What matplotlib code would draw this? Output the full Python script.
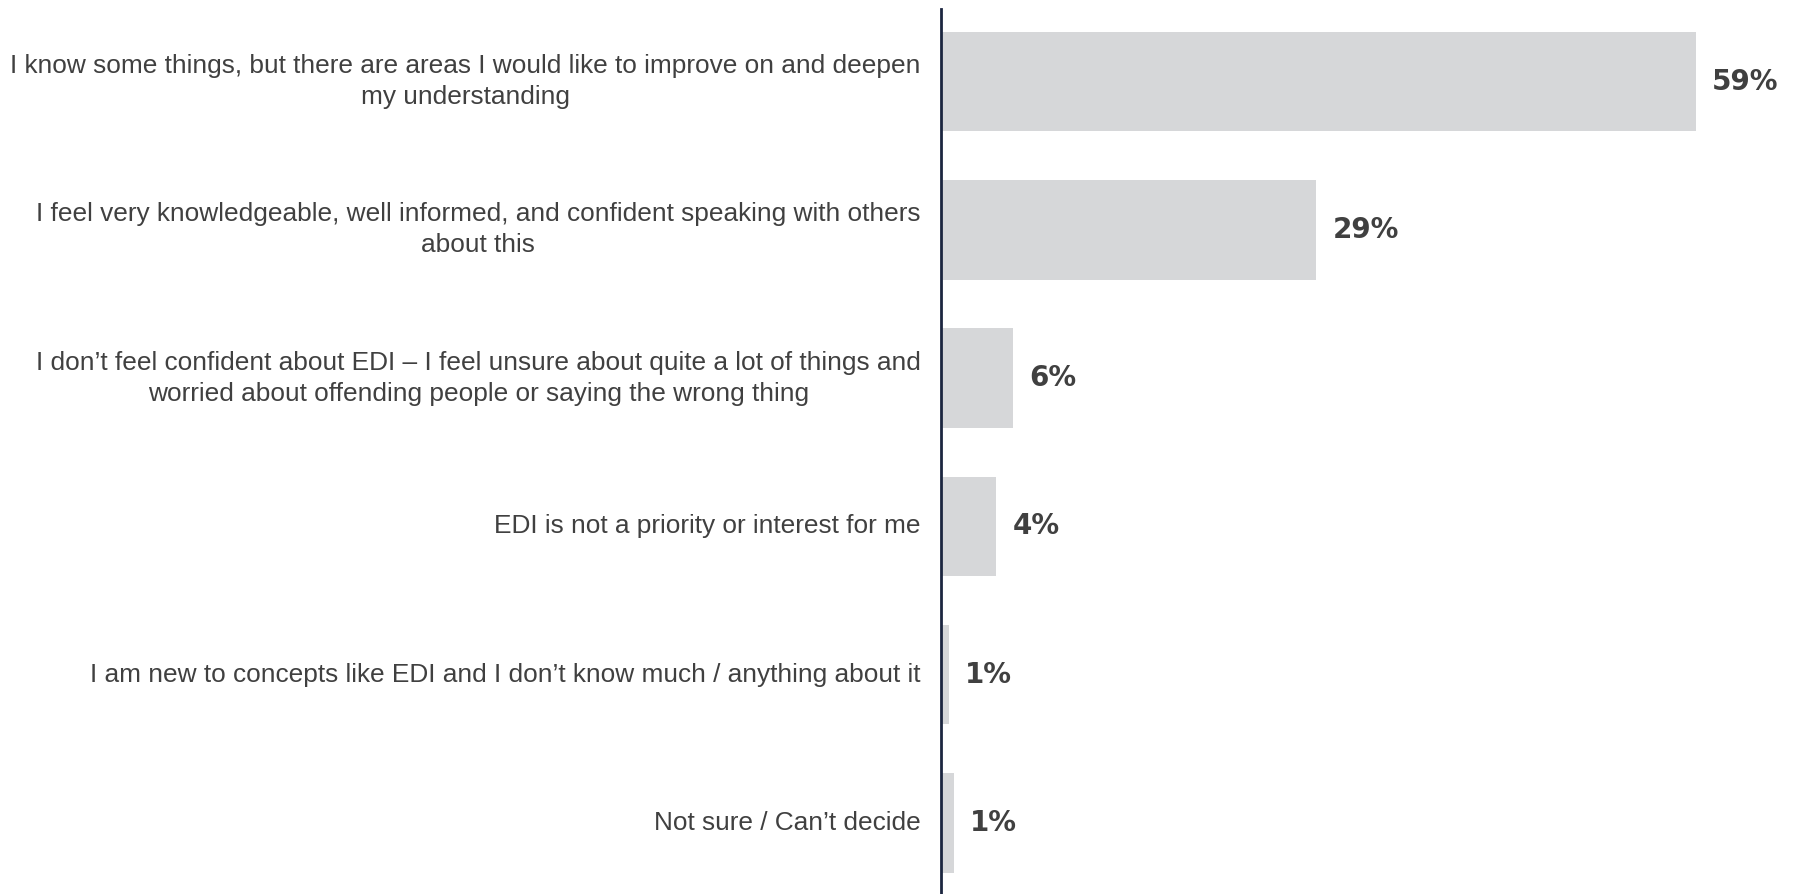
import matplotlib
matplotlib.use("Agg")
import matplotlib.pyplot as plt

# survey answers, top to bottom
answers = [
    "I know some things, but there are areas I would like to improve on and deepen\nmy understanding",
    "I feel very knowledgeable, well informed, and confident speaking with others\nabout this",
    "I don\u2019t feel confident about EDI \u2013 I feel unsure about quite a lot of things and\nworried about offending people or saying the wrong thing",
    "EDI is not a priority or interest for me",
    "I am new to concepts like EDI and I don\u2019t know much / anything about it",
    "Not sure / Can\u2019t decide",
]
# share of respondents (%)
shares = [59.1, 29.4, 5.6, 4.3, 0.6, 1.0]

text_col = "#404040"
bar_col = "#d6d7d9"
axis_col = "#1c2640"

fig = plt.figure(figsize=(18.11, 8.94), dpi=100)
ax = fig.add_axes([941 / 1811, 0.0, 1 - 941 / 1811, 885 / 894])

pos = list(range(len(shares)))
ax.barh(pos, shares, height=0.67, color=bar_col, zorder=1)
ax.set_xlim(0, 870 / 12.77)
ax.set_ylim(5.48, -0.49)

for y, v in zip(pos, shares):
    ax.text(v + 1.3, y, f"{round(v)}%", va="center", ha="left",
            fontsize=20, fontweight="bold", color=text_col)

for y, lab in zip(pos, answers):
    ax.text(-1.6, y, lab, va="center", ha="right", multialignment="center",
            fontsize=18.9, family="Liberation Sans", color=text_col,
            linespacing=1.38, clip_on=False)

ax.set_xticks([])
ax.set_yticks([])
for side in ["top", "right", "bottom"]:
    ax.spines[side].set_visible(False)
ax.spines["left"].set_color(axis_col)
ax.spines["left"].set_linewidth(2)
ax.spines["left"].set_zorder(3)

fig.savefig("out.png", dpi=100, facecolor="white")
